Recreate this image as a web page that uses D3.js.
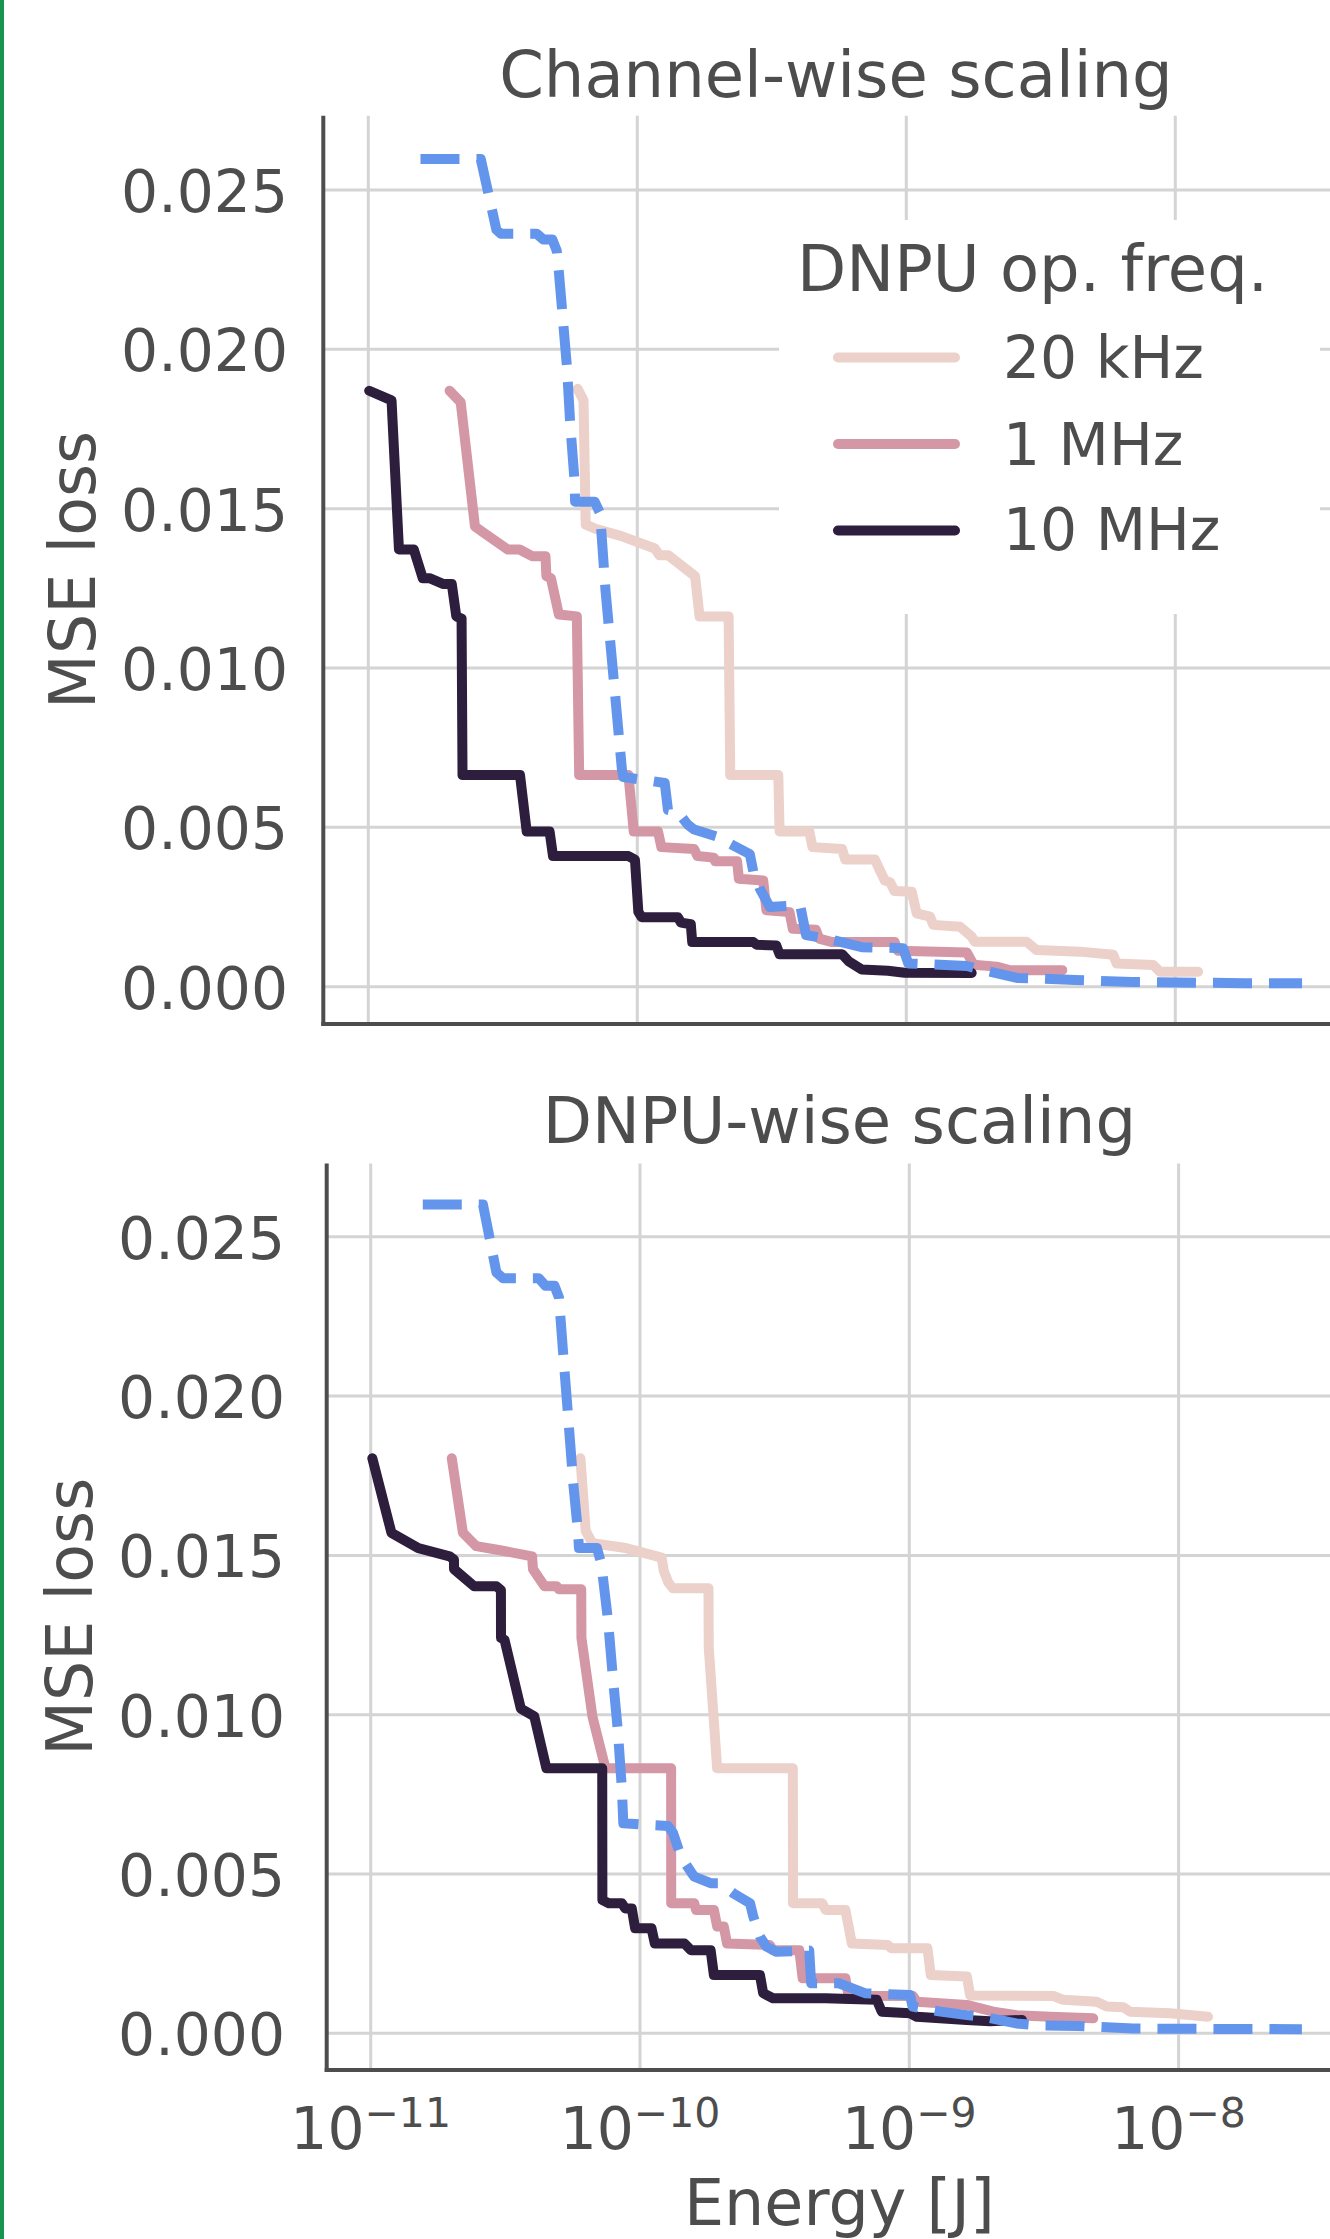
<!DOCTYPE html>
<html><head><meta charset="utf-8">
<script src="https://cdn.jsdelivr.net/npm/d3@7"></script>
<style>
body{margin:0;background:#fff}
svg{display:block}
text{font-family:"DejaVu Sans",sans-serif;fill:#4d4d4d}
</style>
</head><body>
<svg id="chart" width="1330" height="2239"></svg>
<script>
// ---------- data ----------
const energyTicks = [1e-11, 1e-10, 1e-9, 1e-8];
const energyTickExponents = ["\u221211", "\u221210", "\u22129", "\u22128"];
const lossTicks = [0, 0.005, 0.010, 0.015, 0.020, 0.025];
const seriesLabels = ["20 kHz", "1 MHz", "10 MHz"];
const panelTitles = ["Channel-wise scaling", "DNPU-wise scaling"];
const legendTitle = "DNPU op. freq.";
const xLabel = "Energy [J]";
const yLabel = "MSE loss";

// Channel-wise scaling  [energy J, MSE loss]
const channel_20kHz = [
 [6.00e-11,0.01876],[6.31e-11,0.01840],[6.43e-11,0.01450],[6.94e-11,0.01438],[8.73e-11,0.01414],
 [1.162e-10,0.01375],[1.208e-10,0.01354],[1.303e-10,0.01354],[1.640e-10,0.01288],[1.704e-10,0.01162],
 [2.185e-10,0.01162],[2.216e-10,0.00664],[3.343e-10,0.00664],[3.38e-10,0.00487],[4.36e-10,0.00487],
 [4.48e-10,0.00438],[5.77e-10,0.00432],[5.93e-10,0.00399],[7.64e-10,0.00399],[8.32e-10,0.00333],
 [8.70e-10,0.00328],[9.05e-10,0.00300],[1.047e-9,0.00298],[1.093e-9,0.00230],[1.225e-9,0.00220],
 [1.26e-9,0.00194],[1.584e-9,0.00188],[1.75e-9,0.00157],[1.80e-9,0.00141],[2.80e-9,0.00141],
 [3.05e-9,0.00115],[4.42e-9,0.00110],[5.88e-9,0.00100],[6.05e-9,0.00073],[8.28e-9,0.00068],
 [8.77e-9,0.00047],[1.215e-8,0.00047]
];
const channel_1MHz = [
 [2.005e-11,0.01870],[2.205e-11,0.01834],[2.492e-11,0.01444],[2.669e-11,0.01426],[3.295e-11,0.01372],
 [3.651e-11,0.01372],[4.063e-11,0.01351],[4.557e-11,0.01351],[4.593e-11,0.01288],[4.773e-11,0.01282],
 [5.11e-11,0.01168],[5.96e-11,0.01162],[6.08e-11,0.00664],[9.27e-11,0.00664],[9.70e-11,0.00487],
 [1.194e-10,0.00487],[1.229e-10,0.00438],[1.627e-10,0.00432],[1.674e-10,0.00410],[1.926e-10,0.00405],
 [1.948e-10,0.00394],[2.348e-10,0.00394],[2.386e-10,0.00339],[2.938e-10,0.00333],[3.02e-10,0.00240],
 [3.68e-10,0.00234],[3.785e-10,0.00182],[4.61e-10,0.00179],[4.74e-10,0.00151],[5.30e-10,0.00140],
 [9.05e-10,0.00140],[9.31e-10,0.00113],[1.68e-9,0.00107],[1.777e-9,0.00069],[2.164e-9,0.00063],
 [2.42e-9,0.00052],[3.80e-9,0.00052]
];
const channel_10MHz = [
 [1.008e-11,0.01870],[1.22e-11,0.01840],[1.30e-11,0.01372],[1.476e-11,0.01372],[1.594e-11,0.01282],
 [1.689e-11,0.01282],[1.894e-11,0.01264],[2.043e-11,0.01264],[2.124e-11,0.01162],[2.222e-11,0.01155],
 [2.24e-11,0.00664],[3.664e-11,0.00664],[3.88e-11,0.00487],[4.72e-11,0.00487],[4.86e-11,0.00410],
 [9.27e-11,0.00410],[9.80e-11,0.00399],[1.009e-10,0.00235],[1.038e-10,0.00218],[1.415e-10,0.00218],
 [1.454e-10,0.00201],[1.581e-10,0.00196],[1.60e-10,0.00140],[2.70e-10,0.00140],[2.776e-10,0.00132],
 [3.286e-10,0.00129],[3.38e-10,0.00102],[5.77e-10,0.00102],[6.10e-10,0.00080],[6.83e-10,0.00054],
 [8.55e-10,0.00050],[9.85e-10,0.00044],[1.75e-9,0.00043]
];
const channel_reference = [
 [1.563e-11,0.02597],[2.619e-11,0.02597],[2.994e-11,0.02375],[3.11e-11,0.02363],[4.22e-11,0.02363],
 [4.47e-11,0.02345],[4.83e-11,0.02345],[5.02e-11,0.02309],[5.11e-11,0.02243],[5.48e-11,0.01942],
 [5.63e-11,0.01768],[5.85e-11,0.01582],[5.87e-11,0.01522],[6.94e-11,0.01522],[7.27e-11,0.01486],
 [7.62e-11,0.01242],[8.19e-11,0.00955],[8.77e-11,0.00680],[8.87e-11,0.00658],[1.098e-10,0.00647],
 [1.265e-10,0.00639],[1.30e-10,0.00555],[1.415e-10,0.00548],[1.538e-10,0.00509],[1.627e-10,0.00493],
 [1.98e-10,0.00471],[2.28e-10,0.00443],[2.62e-10,0.00416],[2.70e-10,0.00361],[2.86e-10,0.00306],
 [3.11e-10,0.00250],[4.03e-10,0.00256],[4.24e-10,0.00162],[5.30e-10,0.00147],[6.83e-10,0.00124],
 [9.72e-10,0.00121],[1.017e-9,0.00073],[1.677e-9,0.00065],[1.928e-9,0.00052],[2.60e-9,0.00027],
 [3.01e-9,0.00026],[4.24e-9,0.00021],[6.90e-9,0.00015],[1.816e-8,0.00011],[2.96e-8,0.00011]
];

// DNPU-wise scaling  [energy J, MSE loss]
const dnpu_20kHz = [
 [6.007e-11,0.01805],[6.286e-11,0.01577],[6.66e-11,0.01538],[8.86e-11,0.01523],[1.203e-10,0.01493],
 [1.226e-10,0.01451],[1.274e-10,0.01415],[1.324e-10,0.01397],[1.796e-10,0.01397],[1.80e-10,0.01211],
 [1.934e-10,0.00832],[3.694e-10,0.00832],[3.70e-10,0.00408],[4.75e-10,0.00408],[4.89e-10,0.00387],
 [5.79e-10,0.00387],[6.12e-10,0.00282],[8.33e-10,0.00277],[8.57e-10,0.00267],[1.168e-9,0.00267],
 [1.201e-9,0.00183],[1.636e-9,0.00178],[1.683e-9,0.00119],[3.43e-9,0.00117],[3.73e-9,0.00105],
 [4.96e-9,0.00099],[5.41e-9,0.00084],[6.23e-9,0.00082],[6.60e-9,0.00068],[9.29e-9,0.00063],
 [1.285e-8,0.00052]
];
const dnpu_1MHz = [
 [2.00e-11,0.01805],[2.20e-11,0.01571],[2.466e-11,0.01529],[2.988e-11,0.01517],[3.974e-11,0.01497],
 [4.005e-11,0.01457],[4.42e-11,0.01403],[4.905e-11,0.01403],[4.998e-11,0.01394],[6.05e-11,0.01394],
 [6.06e-11,0.01241],[6.66e-11,0.00994],[7.44e-11,0.00832],[1.305e-10,0.00832],[1.306e-10,0.00408],
 [1.59e-10,0.00408],[1.617e-10,0.00387],[1.881e-10,0.00387],[1.935e-10,0.00335],[2.047e-10,0.00335],
 [2.105e-10,0.00282],[3.034e-10,0.00277],[3.116e-10,0.00261],[3.905e-10,0.00261],[4.017e-10,0.00173],
 [5.79e-10,0.00173],[5.95e-10,0.00118],[1.032e-9,0.00117],[1.066e-9,0.00099],[1.633e-9,0.00089],
 [2.05e-9,0.00068],[2.505e-9,0.00057],[3.33e-9,0.00052],[4.82e-9,0.00047]
];
const dnpu_10MHz = [
 [1.014e-11,0.01805],[1.194e-11,0.01571],[1.503e-11,0.01523],[1.963e-11,0.01497],[2.038e-11,0.01487],
 [2.039e-11,0.01457],[2.421e-11,0.01403],[2.93e-11,0.01403],[3.045e-11,0.01391],[3.047e-11,0.01241],
 [3.14e-11,0.01235],[3.61e-11,0.01019],[4.05e-11,0.00995],[4.49e-11,0.00832],[7.24e-11,0.00832],
 [7.25e-11,0.00418],[7.66e-11,0.00408],[8.57e-11,0.00408],[8.81e-11,0.00392],[9.32e-11,0.00392],
 [9.59e-11,0.00330],[1.103e-10,0.00330],[1.135e-10,0.00282],[1.462e-10,0.00282],[1.547e-10,0.00261],
 [1.829e-10,0.00261],[1.881e-10,0.00183],[2.788e-10,0.00183],[2.867e-10,0.00126],[3.118e-10,0.00110],
 [4.89e-10,0.00110],[6.02e-10,0.00108],[7.57e-10,0.00105],[7.90e-10,0.00068],[1.006e-9,0.00063],
 [1.066e-9,0.00052],[1.633e-9,0.00042],[1.994e-9,0.00038],[2.62e-9,0.00042]
];
const dnpu_reference = [
 [1.561e-11,0.02601],[2.612e-11,0.02601],[2.93e-11,0.02388],[3.10e-11,0.02370],[4.21e-11,0.02370],
 [4.46e-11,0.02346],[4.815e-11,0.02346],[5.00e-11,0.02310],[5.195e-11,0.02124],[5.40e-11,0.01944],
 [5.65e-11,0.01727],[5.87e-11,0.01583],[5.935e-11,0.01523],[6.92e-11,0.01523],[7.18e-11,0.01475],
 [7.61e-11,0.01295],[7.91e-11,0.01127],[8.28e-11,0.00947],[8.57e-11,0.00764],[8.67e-11,0.00659],
 [1.073e-10,0.00654],[1.27e-10,0.00651],[1.326e-10,0.00629],[1.42e-10,0.00554],[1.545e-10,0.00507],
 [1.59e-10,0.00492],[1.829e-10,0.00471],[1.99e-10,0.00471],[2.226e-10,0.00439],[2.562e-10,0.00408],
 [2.635e-10,0.00366],[2.79e-10,0.00303],[2.95e-10,0.00272],[3.21e-10,0.00256],[4.25e-10,0.00260],
 [4.32e-10,0.00157],[5.47e-10,0.00157],[6.84e-10,0.00126],[1.006e-9,0.00120],[1.028e-9,0.00084],
 [1.307e-9,0.00068],[1.637e-9,0.00057],[1.88e-9,0.00052],[2.495e-9,0.00031],[3.0e-9,0.00025],
 [4.2e-9,0.00023],[6.77e-9,0.00015],[1.103e-8,0.00014],[2.87e-8,0.00013]
];

// ---------- styling / layout ----------
const seriesColors = ["#ecd0ca", "#d497a5", "#2d1e3e"];
const referenceColor = "#6495ed";
const textColor = "#4d4d4d";
const gridColor = "#d4d4d4";
const LW = 10;
const TICK_FS = 58.3;

const panels = [
  {title: panelTitles[0], series: [channel_20kHz, channel_1MHz, channel_10MHz], ref: channel_reference,
   left: 323.3, right: 1348.5, top: 115.7, bottom: 1024,
   xr: [368.3, 368.3 + 3*269], yr: [986.7, 190],
   titleY: 97, tickRight: 288, ylabelX: 95, showX: false, legend: true},
  {title: panelTitles[1], series: [dnpu_20kHz, dnpu_1MHz, dnpu_10MHz], ref: dnpu_reference,
   left: 326.7, right: 1352, top: 1163.5, bottom: 2070,
   xr: [370.7, 370.7 + 3*269.3], yr: [2033.3, 1236.8],
   titleY: 1143, tickRight: 285, ylabelX: 92, showX: true, legend: false}
];

const svg = d3.select("#chart");
svg.append("rect").attr("width", 1330).attr("height", 2239).attr("fill", "#fff");
svg.append("rect").attr("x", 0).attr("y", 0).attr("width", 4).attr("height", 2239).attr("fill", "#179450");

const fmt = d3.format(".3f");

panels.forEach(p => {
  const x = d3.scaleLog().domain([1e-11, 1e-8]).range(p.xr);
  const y = d3.scaleLinear().domain([0, 0.025]).range(p.yr);
  const g = svg.append("g");

  // grid
  g.selectAll(".hg").data(lossTicks).enter().append("line")
    .attr("x1", p.left).attr("x2", p.right)
    .attr("y1", d => y(d)).attr("y2", d => y(d))
    .attr("stroke", gridColor).attr("stroke-width", 3);
  g.selectAll(".vg").data(energyTicks).enter().append("line")
    .attr("x1", d => x(d)).attr("x2", d => x(d))
    .attr("y1", p.top).attr("y2", p.bottom)
    .attr("stroke", gridColor).attr("stroke-width", 3);

  // y tick labels
  g.selectAll(".yt").data(lossTicks).enter().append("text")
    .attr("x", p.tickRight).attr("y", d => y(d) + 22)
    .attr("text-anchor", "end").attr("font-size", TICK_FS)
    .text(d => fmt(d));

  // x tick labels
  if (p.showX) {
    energyTicks.forEach((t, i) => {
      const tx = g.append("text").attr("x", x(t)).attr("y", 2149)
        .attr("text-anchor", "middle").attr("font-size", TICK_FS);
      tx.append("tspan").text("10");
      tx.append("tspan").attr("dy", -22).attr("font-size", 41).text(energyTickExponents[i]);
    });
    g.append("text").attr("x", (p.left + p.right) / 2).attr("y", 2225)
      .attr("text-anchor", "middle").attr("font-size", 63.5).text(xLabel);
  }

  // title & y label
  g.append("text").attr("x", (p.left + p.right) / 2).attr("y", p.titleY)
    .attr("text-anchor", "middle").attr("font-size", 64).text(p.title);
  g.append("text")
    .attr("transform", `translate(${p.ylabelX},${(p.top + p.bottom) / 2}) rotate(-90)`)
    .attr("text-anchor", "middle").attr("font-size", 63.5).text(yLabel);

  // lines
  const line = d3.line().x(d => x(d[0])).y(d => y(d[1]));
  p.series.forEach((s, i) => {
    g.append("path").datum(s).attr("d", line)
      .attr("fill", "none").attr("stroke", seriesColors[i]).attr("stroke-width", LW)
      .attr("stroke-linejoin", "round").attr("stroke-linecap", "round");
  });
  g.append("path").datum(p.ref).attr("d", line)
    .attr("fill", "none").attr("stroke", referenceColor).attr("stroke-width", LW)
    .attr("stroke-dasharray", "39,17").attr("stroke-linejoin", "round").attr("stroke-linecap", "butt");

  // spines (left & bottom)
  g.append("line").attr("x1", p.left).attr("x2", p.left).attr("y1", p.top).attr("y2", p.bottom + 2)
    .attr("stroke", textColor).attr("stroke-width", 4);
  g.append("line").attr("x1", p.left - 2).attr("x2", p.right).attr("y1", p.bottom).attr("y2", p.bottom)
    .attr("stroke", textColor).attr("stroke-width", 4);

  // legend
  if (p.legend) {
    const lg = g.append("g");
    lg.append("rect").attr("x", 779).attr("y", 220).attr("width", 541).attr("height", 394)
      .attr("rx", 6).attr("fill", "#fff");
    lg.append("text").attr("x", 797).attr("y", 291).attr("font-size", 64).text(legendTitle);
    const rowsY = [357.5, 444, 530.5];
    const baseY = [378, 465, 550];
    seriesLabels.forEach((lab, i) => {
      lg.append("line").attr("x1", 838).attr("x2", 955).attr("y1", rowsY[i]).attr("y2", rowsY[i])
        .attr("stroke", seriesColors[i]).attr("stroke-width", LW).attr("stroke-linecap", "round");
      lg.append("text").attr("x", 1003).attr("y", baseY[i]).attr("font-size", TICK_FS).text(lab);
    });
  }
});
</script>
</body></html>
